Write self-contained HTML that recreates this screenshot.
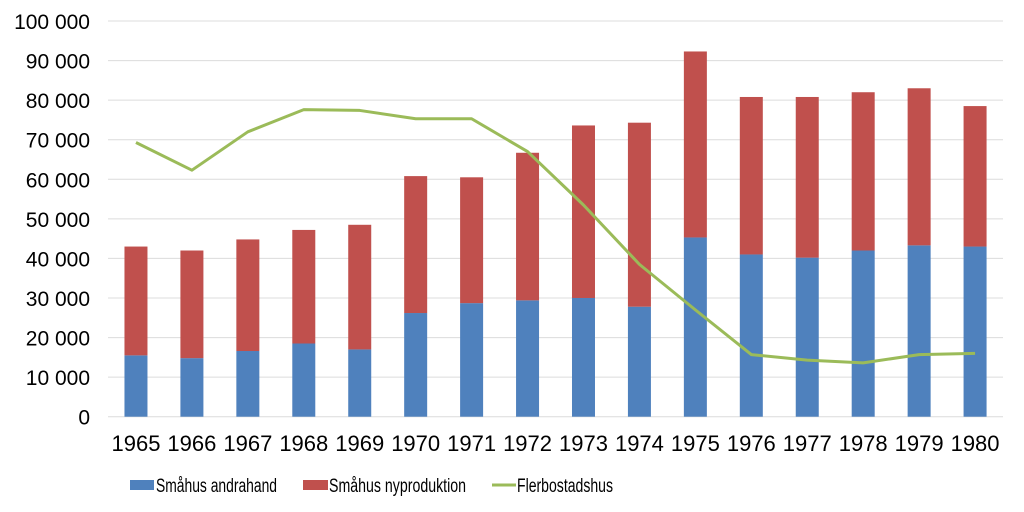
<!DOCTYPE html>
<html><head><meta charset="utf-8"><style>body{margin:0;background:#fff}svg{display:block}text{font-family:"Liberation Sans",Arial,sans-serif;fill:#000}</style></head><body>
<svg width="1024" height="512" xmlns="http://www.w3.org/2000/svg">
<g stroke="#dcdcdc" stroke-width="1">
<line x1="108" x2="1003" y1="21" y2="21"/><line x1="108" x2="1003" y1="60.6" y2="60.6"/><line x1="108" x2="1003" y1="100.1" y2="100.1"/><line x1="108" x2="1003" y1="139.7" y2="139.7"/><line x1="108" x2="1003" y1="179.3" y2="179.3"/><line x1="108" x2="1003" y1="218.9" y2="218.9"/><line x1="108" x2="1003" y1="258.4" y2="258.4"/><line x1="108" x2="1003" y1="298" y2="298"/><line x1="108" x2="1003" y1="337.6" y2="337.6"/><line x1="108" x2="1003" y1="377.1" y2="377.1"/><line x1="108" x2="1003" y1="416.7" y2="416.7"/>
</g>
<g font-size="21" text-anchor="end">
<text x="90" y="29">100 000</text><text x="90" y="68.6">90 000</text><text x="90" y="108.1">80 000</text><text x="90" y="147.7">70 000</text><text x="90" y="187.3">60 000</text><text x="90" y="226.9">50 000</text><text x="90" y="266.4">40 000</text><text x="90" y="306">30 000</text><text x="90" y="345.6">20 000</text><text x="90" y="385.1">10 000</text><text x="90" y="424.7">0</text>
</g>
<g fill="#4f81bd">
<rect x="124.47" y="355.37" width="23" height="61.33"/>
<rect x="180.41" y="358.14" width="23" height="58.56"/>
<rect x="236.35" y="351.01" width="23" height="65.69"/>
<rect x="292.29" y="343.50" width="23" height="73.20"/>
<rect x="348.23" y="349.43" width="23" height="67.27"/>
<rect x="404.17" y="313.03" width="23" height="103.67"/>
<rect x="460.11" y="303.13" width="23" height="113.57"/>
<rect x="516.05" y="300.36" width="23" height="116.34"/>
<rect x="571.99" y="297.99" width="23" height="118.71"/>
<rect x="627.93" y="306.70" width="23" height="110.00"/>
<rect x="683.87" y="237.45" width="23" height="179.25"/>
<rect x="739.81" y="254.46" width="23" height="162.24"/>
<rect x="795.75" y="257.63" width="23" height="159.07"/>
<rect x="851.69" y="250.51" width="23" height="166.19"/>
<rect x="907.63" y="245.36" width="23" height="171.34"/>
<rect x="963.57" y="246.55" width="23" height="170.15"/>
</g>
<g fill="#c0504d">
<rect x="124.47" y="246.55" width="23" height="108.82"/>
<rect x="180.41" y="250.51" width="23" height="107.63"/>
<rect x="236.35" y="239.43" width="23" height="111.58"/>
<rect x="292.29" y="229.93" width="23" height="113.57"/>
<rect x="348.23" y="224.79" width="23" height="124.64"/>
<rect x="404.17" y="176.11" width="23" height="136.92"/>
<rect x="460.11" y="177.30" width="23" height="125.83"/>
<rect x="516.05" y="152.77" width="23" height="147.59"/>
<rect x="571.99" y="125.46" width="23" height="172.53"/>
<rect x="627.93" y="122.69" width="23" height="184.01"/>
<rect x="683.87" y="51.47" width="23" height="185.98"/>
<rect x="739.81" y="96.97" width="23" height="157.49"/>
<rect x="795.75" y="96.97" width="23" height="160.66"/>
<rect x="851.69" y="92.23" width="23" height="158.28"/>
<rect x="907.63" y="88.27" width="23" height="157.09"/>
<rect x="963.57" y="106.08" width="23" height="140.47"/>
</g>
<polyline fill="none" stroke="#9bbb59" stroke-width="3" stroke-linejoin="round" points="135.97,142.48 191.91,170.18 247.85,131.80 303.79,109.64 359.73,110.43 415.67,118.74 471.61,118.74 527.55,151.58 583.49,205.00 639.43,264.36 695.37,309.86 751.31,354.58 807.25,360.12 863.19,362.88 919.13,354.58 975.07,353.39"/>
<g font-size="22" text-anchor="middle">
<text x="135.97" y="451">1965</text><text x="191.91" y="451">1966</text><text x="247.85" y="451">1967</text><text x="303.79" y="451">1968</text><text x="359.73" y="451">1969</text><text x="415.67" y="451">1970</text><text x="471.61" y="451">1971</text><text x="527.55" y="451">1972</text><text x="583.49" y="451">1973</text><text x="639.43" y="451">1974</text><text x="695.37" y="451">1975</text><text x="751.31" y="451">1976</text><text x="807.25" y="451">1977</text><text x="863.19" y="451">1978</text><text x="919.13" y="451">1979</text><text x="975.07" y="451">1980</text>
</g>
<rect x="130" y="480" width="24" height="10" fill="#4f81bd"/>
<text x="156" y="492" font-size="19" textLength="121" lengthAdjust="spacingAndGlyphs">Småhus andrahand</text>
<rect x="303" y="480" width="25" height="10" fill="#c0504d"/>
<text x="329" y="492" font-size="19" textLength="137" lengthAdjust="spacingAndGlyphs">Småhus nyproduktion</text>
<line x1="492" x2="516" y1="485" y2="485" stroke="#9bbb59" stroke-width="3"/>
<text x="517" y="492" font-size="19" textLength="96" lengthAdjust="spacingAndGlyphs">Flerbostadshus</text>
</svg>
</body></html>
